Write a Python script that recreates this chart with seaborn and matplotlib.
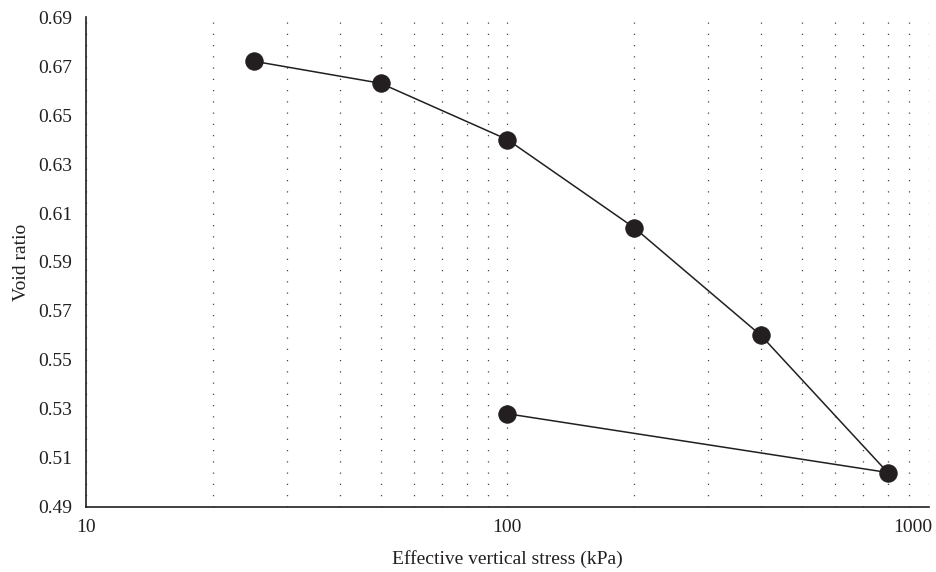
import matplotlib
matplotlib.use("Agg")
import matplotlib.pyplot as plt
import matplotlib.ticker as mticker
import matplotlib.transforms as mtransforms
import seaborn as sns
import pandas as pd

# consolidation test: loading then unloading
stress_kpa = [25, 50, 100, 200, 400, 800, 100]
void_ratio = [0.672, 0.663, 0.640, 0.604, 0.560, 0.504, 0.528]
y_ticks = [0.49, 0.51, 0.53, 0.55, 0.57, 0.59, 0.61, 0.63, 0.65, 0.67, 0.69]
x_ticks = [10, 100, 1000]

df = pd.DataFrame({"stress": stress_kpa, "e": void_ratio})

sns.set_style("white")
plt.rcParams["font.family"] = ["Liberation Serif", "DejaVu Serif"]

fig = plt.figure(figsize=(9.37, 5.72), dpi=100)
ax = fig.add_axes([0.092, 0.114, 0.899, 0.856])

sns.lineplot(data=df, x="stress", y="e", sort=False, estimator=None,
             marker="o", markersize=12.5, color="#231f20", linewidth=1.1,
             markeredgecolor="#231f20", ax=ax)

ax.set_xscale("log")
ax.set_xlim(10, 1000)
ax.set_ylim(0.49, 0.69)
ax.set_yticks(y_ticks)
ax.yaxis.set_major_formatter(mticker.FormatStrFormatter("%.2f"))
ax.set_xticks(x_ticks)
ax.xaxis.set_major_formatter(mticker.FuncFormatter(lambda v, p: f"{v:g}"))
ax.xaxis.set_minor_locator(mticker.LogLocator(base=10, subs=range(2, 10)))
ax.xaxis.set_minor_formatter(mticker.NullFormatter())

ax.grid(True, axis="x", which="both", linestyle=(0, (1, 8)), color="#444444", linewidth=0.9)
ax.grid(False, axis="y")

for s in ["top", "right"]:
    ax.spines[s].set_visible(False)
for s in ["left", "bottom"]:
    ax.spines[s].set_color("#231f20")
    ax.spines[s].set_linewidth(1.2)

ax.tick_params(axis="both", which="both", length=0, labelsize=14, colors="#231f20")
ax.tick_params(axis="y", pad=10)
ax.tick_params(axis="x", pad=9)

# last x label sits inside the figure
last = ax.get_xticklabels()[-1]
last.set_horizontalalignment("right")
last.set_transform(last.get_transform() + mtransforms.ScaledTranslation(0.04, 0, fig.dpi_scale_trans))

ax.set_xlabel("Effective vertical stress (kPa)", fontsize=14, color="#231f20", labelpad=10)
ax.set_ylabel("Void ratio", fontsize=14, color="#231f20", labelpad=6)

fig.savefig("out.png", dpi=100)
